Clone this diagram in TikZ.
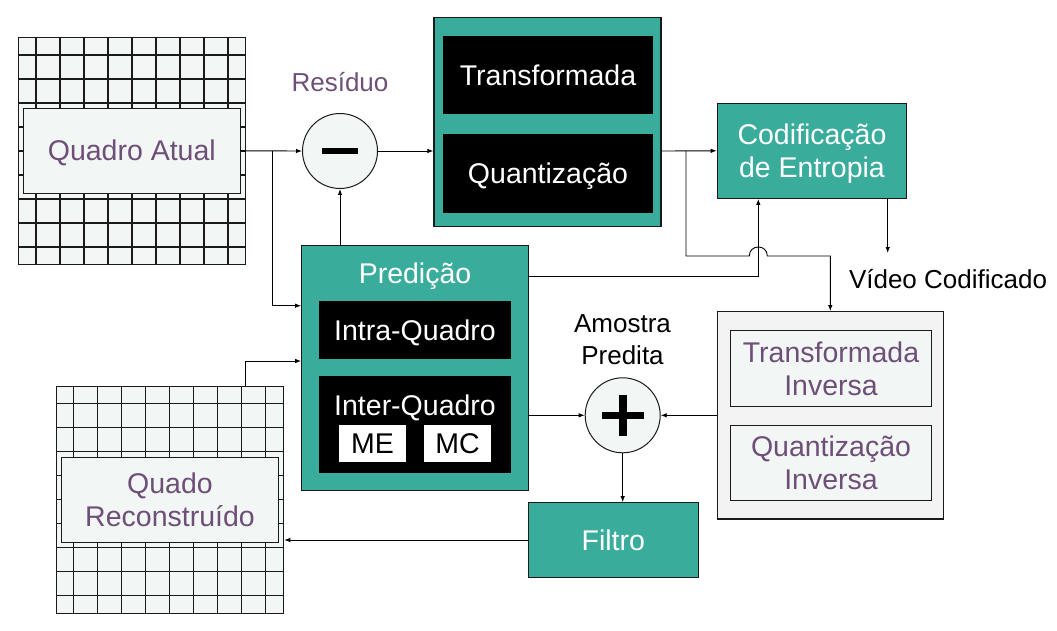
\documentclass[tikz,border=0pt]{standalone}
\usepackage{fontspec}
\setmainfont{Liberation Sans}
\usetikzlibrary{arrows.meta}
\definecolor{tealc}{HTML}{3AAC9B}
\definecolor{purp}{HTML}{6E4F78}
\definecolor{lightf}{HTML}{F2F6F5}
\definecolor{grayf}{HTML}{F3F3F3}
\definecolor{bordc}{HTML}{1A1A1A}
\tikzset{
  bigfont/.style={font=\fontsize{28.5}{33}\selectfont},
  lblfont/.style={font=\fontsize{26}{32}\selectfont},
  oneline/.style={text height=20.4pt, text depth=0pt},
  twoline/.style={text height=53.4pt, text depth=0pt},
  boxbase/.style={draw=bordc, line width=1.2pt, inner sep=0pt, align=center, bigfont},
  tealbox/.style={boxbase, fill=tealc, text=white},
  blackbox/.style={boxbase, fill=black, draw=black, text=white},
  whitebox/.style={boxbase, fill=white, draw=white, text=black},
  lightbox/.style={boxbase, fill=lightf, text=purp},
  graybox/.style={boxbase, fill=grayf},
  gridbox/.style={draw=bordc, line width=1.1pt, fill=lightf, inner sep=0pt},
  gridline/.style={draw=bordc, line width=1.1pt},
  opcirc/.style={circle, draw=bordc, line width=1pt, fill=lightf, minimum size=75pt, inner sep=0pt},
  conn/.style={draw=black, line width=0.9pt},
  arr/.style={conn, -{Latex[length=6pt,width=4.5pt]}},
}
\begin{document}
\begin{tikzpicture}[x=1pt,y=-1pt]
\useasboundingbox (0,0) rectangle (1057,631);

% ---- Grid A (Quadro Atual)
\node[gridbox, minimum width=227.4pt, minimum height=227pt] (gA) at (131.9,150.8) {};
\foreach \x in {36,60,...,228} \draw[gridline] (\x,37.3) -- (\x,264.3);
\foreach \y in {55,79,...,247} \draw[gridline] (18.3,\y) -- (245.7,\y);
\node[lightbox, oneline, minimum width=217pt, minimum height=85pt] (qa) at (131.8,150.8) {Quadro Atual};

% ---- Grid B (Quado Reconstruido)
\node[gridbox, minimum width=227.4pt, minimum height=227.3pt] (gB) at (170,499.7) {};
\foreach \x in {73.3,97.3,...,265.3} \draw[gridline] (\x,386) -- (\x,613.3);
\foreach \y in {403.3,427.3,...,595.3} \draw[gridline] (56.3,\y) -- (283.7,\y);
\node[lightbox, twoline, minimum width=217.4pt, minimum height=85pt] (qr) at (170,499.8) {Quado\\Reconstruído};

% ---- Residue circle
\node[opcirc] (res) at (340,151) {};
\fill[black] ([xshift=-18pt,yshift=3pt]res.center) rectangle ([xshift=18pt,yshift=-3pt]res.center);
\node[lblfont, text=purp, anchor=base, inner sep=0pt] (reslbl) at (340,92) {Resíduo};

% ---- Transform / Quantization
\node[tealbox, minimum width=227pt, minimum height=209pt] (tq) at (547.5,122.3) {};
\node[blackbox, oneline, minimum width=208pt, minimum height=77pt] (tr) at (548,75.3) {Transformada};
\node[blackbox, oneline, minimum width=208pt, minimum height=77pt] (qz) at (548,173.5) {Quantização};

% ---- Entropy coding
\node[tealbox, twoline, minimum width=189.4pt, minimum height=95pt] (ce) at (812,150.8) {Codificação\\de Entropia};
\node[lblfont, anchor=base, inner sep=0pt] (vd) at (948,288) {Vídeo Codificado};
\coordinate (vdin) at (887.7,253);

% ---- Prediction
\node[tealbox, minimum width=227pt, minimum height=245pt] (pred) at (415.2,368.2) {};
\node[bigfont, oneline, text=white, inner sep=0pt] (predlbl) at (415,273) {Predição};
\node[blackbox, oneline, minimum width=190pt, minimum height=57pt] (intra) at (415,330.2) {Intra-Quadro};
\node[blackbox, minimum width=190pt, minimum height=96pt] (inter) at (415,424.7) {};
\node[bigfont, oneline, text=white, inner sep=0pt] (interlbl) at (415,405) {Inter-Quadro};
\node[whitebox, oneline, minimum width=65pt, minimum height=36pt] (me) at (372.5,443.7) {ME};
\node[whitebox, oneline, minimum width=65pt, minimum height=36pt] (mc) at (457.5,443.7) {MC};

% ---- Sum circle
\node[opcirc] (sum) at (622.7,415.3) {};
\fill[black] ([xshift=-21pt,yshift=3.2pt]sum.center) rectangle ([xshift=21pt,yshift=-3.2pt]sum.center);
\fill[black] ([xshift=-3.8pt,yshift=20.8pt]sum.center) rectangle ([xshift=3.8pt,yshift=-20.8pt]sum.center);
\node[lblfont, align=center, inner sep=0pt, text height=50.6pt, text depth=0pt] (amlbl) at (622.5,339.5) {Amostra\\Predita};

% ---- Filter
\node[tealbox, oneline, minimum width=170pt, minimum height=74.6pt] (fil) at (613.3,540) {Filtro};

% ---- Inverse
\node[graybox, minimum width=226pt, minimum height=207.3pt] (inv) at (830.3,415.3) {};
\node[lightbox, twoline, minimum width=200.6pt, minimum height=75.6pt] (ti) at (831,368.5) {Transformada\\Inversa};
\node[lightbox, twoline, minimum width=200.6pt, minimum height=75pt] (qi) at (831,462.8) {Quantização\\Inversa};

% ---- Connectors
\draw[arr] (qa.east) -- (res.west);
\coordinate (jA) at (272,150.8);
\draw[arr] (jA) |- ([yshift=62.5pt]pred.west);
\draw[arr] ([xshift=75.3pt]gB.north) |- ([yshift=7.2pt]pred.west);
\draw[arr] ([xshift=-75.2pt]pred.north) -- (res.south);
\draw[arr] (res.east) -- (res.east -| tq.west);
\draw[arr] (res.east -| tq.east) -- (ce.west);
\coordinate (jT) at (686,150.8);
\draw[arr] (jT) -- (686,256) -- (749.3,256) .. controls (749.3,244) and (767.3,244) .. (767.3,256) -- (830.3,256) -- (inv.north);
\draw[arr] ([yshift=91.5pt]pred.east) -| ([xshift=-53.7pt]ce.south);
\draw[arr] ([xshift=75.7pt]ce.south) -- (vdin);
\draw[arr] (sum.west -| pred.east) -- (sum.west);
\draw[arr] (inv.west) -- (sum.east);
\draw[arr] (sum.south) -- (sum.south |- fil.north);
\draw[arr] (fil.west) -- (fil.west -| gB.east);
\end{tikzpicture}
\end{document}
